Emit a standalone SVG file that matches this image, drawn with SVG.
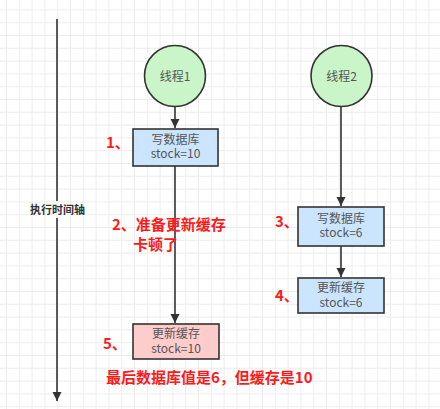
<svg xmlns="http://www.w3.org/2000/svg" width="440" height="409" viewBox="0 0 440 409">
<defs>
<pattern id="grid" x="6" y="9.4" width="12.8" height="12.8" patternUnits="userSpaceOnUse">
<path d="M0.5 0V12.8M0 0.5H12.8" stroke="#ececec" stroke-width="1" fill="none"/>
</pattern>
<marker id="arr" markerWidth="10" markerHeight="10" refX="9" refY="4.5" orient="auto" markerUnits="userSpaceOnUse">
<path d="M0 0L9 4.5L0 9z" fill="#333"/>
</marker>
</defs>
<style>
.conn{stroke:#333;stroke-width:1.6;fill:none}
.circ{fill:#c9f5c9;stroke:#333;stroke-width:1.6}
.box{fill:#cce5ff;stroke:#333;stroke-width:1.6}
.pink{fill:#ffcccc;stroke:#333;stroke-width:1.6}
.nt{font-family:"Noto Sans CJK SC","Open Sans",sans-serif;font-size:12px;fill:#555;text-anchor:middle}
.red{font-family:"Noto Sans CJK SC",sans-serif;font-size:15px;font-weight:bold;fill:#ff1a1a}
.axis{font-family:"Noto Sans CJK SC",sans-serif;font-size:11px;font-weight:bold;fill:#333;text-anchor:middle}
</style>
<rect width="440" height="409" fill="#fff"/>
<rect width="440" height="409" fill="url(#grid)"/>
<g id="connectors">
<path class="conn" d="M57 19V201"/>
<path class="conn" d="M57 218V401" marker-end="url(#arr)"/>
<path class="conn" d="M175 107V128" marker-end="url(#arr)"/>
<path class="conn" d="M175 166V323" marker-end="url(#arr)"/>
<path class="conn" d="M341 106V206" marker-end="url(#arr)"/>
<path class="conn" d="M341 246V277" marker-end="url(#arr)"/>
</g>
<g id="axis-label"><text class="axis" x="57.5" y="214">执行时间轴</text></g>
<g id="thread1">
<circle class="circ" cx="175" cy="76" r="30.5"/>
<text class="nt" x="175" y="80.5">线程1</text>
</g>
<g id="thread2">
<circle class="circ" cx="341.5" cy="76" r="30.5"/>
<text class="nt" x="341.5" y="80.5">线程2</text>
</g>
<g id="step1">
<rect class="box" x="133" y="129" width="85" height="37"/>
<text class="nt" x="175.5" y="144">写数据库</text>
<text class="nt" x="175.5" y="158">stock=10</text>
</g>
<g id="step5">
<rect class="pink" x="133" y="324" width="86" height="35"/>
<text class="nt" x="176" y="338">更新缓存</text>
<text class="nt" x="176" y="352.5">stock=10</text>
</g>
<g id="step3">
<rect class="box" x="298" y="207" width="86" height="39"/>
<text class="nt" x="341" y="223">写数据库</text>
<text class="nt" x="341" y="237">stock=6</text>
</g>
<g id="step4">
<rect class="box" x="298" y="278" width="86" height="35"/>
<text class="nt" x="341" y="292">更新缓存</text>
<text class="nt" x="341" y="306.5">stock=6</text>
</g>
<g id="labels">
<text class="red" x="106" y="148">1、</text>
<text class="red" x="112" y="230">2、准备更新缓存</text>
<text class="red" x="133" y="250">卡顿了</text>
<text class="red" x="275" y="227">3、</text>
<text class="red" x="275" y="301">4、</text>
<text class="red" x="103" y="349">5、</text>
<text class="red" x="106" y="383">最后数据库值是6，但缓存是10</text>
</g>
</svg>
